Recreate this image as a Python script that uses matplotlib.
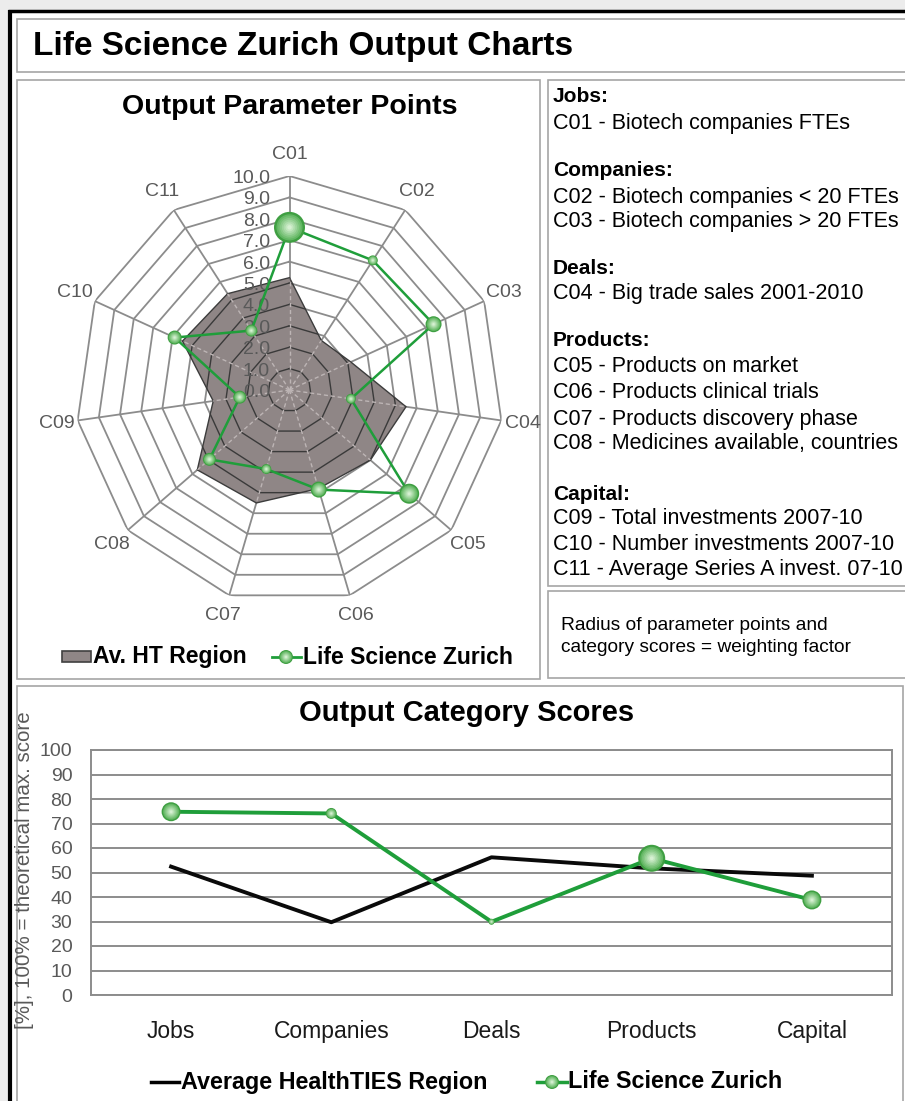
import numpy as np
import matplotlib
matplotlib.use('Agg')
import matplotlib.pyplot as plt
from matplotlib.patches import Rectangle
import matplotlib.transforms as mtransforms
from matplotlib.colors import to_rgb

plt.rcParams['font.family'] = ['Liberation Sans', 'DejaVu Sans']

# ---------------- data ----------------
param_codes = ['C01', 'C02', 'C03', 'C04', 'C05', 'C06', 'C07', 'C08', 'C09', 'C10', 'C11']
avg_region = [5.25, 2.75, 3.15, 5.5, 5.0, 4.8, 5.5, 5.7, 3.6, 5.5, 5.35]
lsz_params = [7.6, 7.2, 7.4, 2.9, 7.4, 4.85, 3.85, 4.95, 2.35, 5.9, 3.3]
param_weights = [31, 10, 16, 10, 20, 16, 10, 13, 13, 14, 12]
radar_ticks = [0, 1, 2, 3, 4, 5, 6, 7, 8, 9, 10]

categories = ['Jobs', 'Companies', 'Deals', 'Products', 'Capital']
avg_scores = [52.4, 29.7, 56.2, 51.7, 48.7]
lsz_scores = [74.8, 74.1, 29.9, 55.8, 38.8]
category_weights = [19, 11, 6, 27, 19]
score_ticks = [0, 10, 20, 30, 40, 50, 60, 70, 80, 90, 100]

main_title = 'Life Science Zurich Output Charts'
radar_title = 'Output Parameter Points'
line_title = 'Output Category Scores'
ylabel_text = '[%], 100% = theoretical max. score'
radar_legend = ['Av. HT Region', 'Life Science Zurich']
line_legend = ['Average HealthTIES Region', 'Life Science Zurich']
panel_lines = [
    ('Jobs:', True), ('C01 - Biotech companies FTEs', False),
    ('Companies:', True), ('C02 - Biotech companies < 20 FTEs', False),
    ('C03 - Biotech companies > 20 FTEs', False),
    ('Deals:', True), ('C04 - Big trade sales 2001-2010', False),
    ('Products:', True), ('C05 - Products on market', False),
    ('C06 - Products clinical trials', False), ('C07 - Products discovery phase', False),
    ('C08 - Medicines available, countries', False),
    ('Capital:', True), ('C09 - Total investments 2007-10', False),
    ('C10 - Number investments 2007-10', False),
    ('C11 - Average Series A invest. 07-10', False),
]
panel_y = [97, 123, 171, 197, 221, 268, 294, 341, 367, 393, 419, 444, 494, 519, 545, 570]
note_lines = ['Radius of parameter points and', 'category scores = weighting factor']

# ---------------- figure ----------------
W, H = 905, 1101
fig = plt.figure(figsize=(W / 100, H / 100), dpi=100)
fig.patch.set_facecolor('white')

GREEN = '#1f9e3a'
FILL = '#8f8686'
GRID = '#8c8c8c'
LABEL = '#595959'
BORDER = '#a6a6a6'

bg = fig.add_axes([0, 0, 1, 1], zorder=-10)
bg.set_xlim(0, W)
bg.set_ylim(H, 0)
bg.axis('off')

bg.add_patch(Rectangle((0, 0), W, 10, facecolor='#ececec', edgecolor='none'))
bg.add_patch(Rectangle((0, 0), 8, H, facecolor='#ececec', edgecolor='none'))
bg.plot([8, W], [11, 11], color='black', lw=2.5, solid_capstyle='butt')
bg.plot([10, 10], [10, H], color='black', lw=3, solid_capstyle='butt')


def box(x0, y0, x1, y1):
    bg.add_patch(Rectangle((x0, y0), x1 - x0, y1 - y0, facecolor='white',
                           edgecolor=BORDER, lw=1.2))


box(17, 19, 910, 72)
box(17, 80, 540, 679)
box(548, 80, 910, 586)
box(548, 591, 910, 678)
box(17, 686, 903, 1110)

bg.text(33, 46, main_title, fontsize=24, fontweight='bold', ha='left', va='center', color='black')
bg.text(290, 107, radar_title, fontsize=20.5, fontweight='bold', ha='center', va='center')
bg.text(467, 713, line_title, fontsize=21, fontweight='bold', ha='center', va='center')

for (txt, bold), yy in zip(panel_lines, panel_y):
    bg.text(553, yy, txt, fontsize=15 if bold else 15.5, fontweight='bold' if bold else 'normal',
            ha='left', va='center', color='black')
for txt, yy in zip(note_lines, [625, 647]):
    bg.text(561, yy, txt, fontsize=13.8, ha='left', va='center', color='black')

bg.text(25, 870, ylabel_text, fontsize=14.8, rotation=90, ha='center', va='center', color=LABEL)


def sphere(ax, x, y, d_px, zorder=6, **kw):
    s = (np.asarray(d_px, dtype=float) * 0.72) ** 2
    ax.scatter(x, y, s=s, color='#3f9f42', edgecolors='none', zorder=zorder, **kw)
    c0 = np.array(to_rgb('#4fae50'))
    c1 = np.array(to_rgb('#d6f0d2'))
    steps = 7
    for k in range(1, steps + 1):
        f = k / steps
        col = c0 * (1 - f) + c1 * f
        ax.scatter(x, y, s=s * (1 - 0.85 * f) ** 2 * 0.92, color=col, edgecolors='none',
                   zorder=zorder + 0.01 * k, **kw)


# legends (radar)
bg.add_patch(Rectangle((62, 651), 29, 11, facecolor=FILL, edgecolor='#404040', lw=1.2))
bg.text(93, 657, radar_legend[0], fontsize=16.5, fontweight='bold', ha='left', va='center')
bg.plot([272, 301], [657, 657], color=GREEN, lw=2)
sphere(bg, [286], [657], [14])
bg.text(303, 657, radar_legend[1], fontsize=16.5, fontweight='bold', ha='left', va='center')

# legends (line chart)
bg.plot([151, 179], [1082, 1082], color='black', lw=2.5)
bg.text(181, 1082, line_legend[0], fontsize=16.8, fontweight='bold', ha='left', va='center')
bg.plot([537, 567], [1082, 1082], color=GREEN, lw=2.5)
sphere(bg, [552], [1082], [14])
bg.text(568, 1082, line_legend[1], fontsize=16.8, fontweight='bold', ha='left', va='center')

# ---------------- radar ----------------
cx, cy, R = 289.5, 390.0, 214.0
ax = fig.add_axes([(cx - R) / W, (H - cy - R) / H, 2 * R / W, 2 * R / H], projection='polar')
ax.set_facecolor('none')
ax.set_theta_offset(np.pi / 2)
ax.set_theta_direction(-1)
ax.set_ylim(0, 10)
ax.grid(False)
ax.set_xticks([])
ax.set_yticks([])
ax.spines['polar'].set_visible(False)

n = len(param_codes)
theta = np.arange(n) * 2 * np.pi / n
theta_c = np.append(theta, theta[0])

for r in radar_ticks[1:]:
    ax.plot(theta_c, [r] * (n + 1), color=GRID, lw=1.3, zorder=1)
for t in theta:
    ax.plot([t, t], [0, 10], color=GRID, lw=1.3, zorder=1)

avg_c = np.append(avg_region, avg_region[0])
fill_patch = ax.fill(theta_c, avg_c, facecolor=FILL, edgecolor='#3c3c3c', lw=1.0, zorder=2)[0]
for r in radar_ticks[1:]:
    ln, = ax.plot(theta_c, [r] * (n + 1), color='#3a3a3a', lw=1.0, zorder=3)
    ln.set_clip_path(fill_patch)
for t in theta:
    ln, = ax.plot([t, t], [0, 10], color='#bdb5b5', lw=1.0, ls=(0, (3, 2)), zorder=3)
    ln.set_clip_path(fill_patch)

off = mtransforms.offset_copy(ax.transData, fig=fig, x=-19.5, y=-2.5, units='dots')
for r in radar_ticks:
    ax.text(0, r, f'{r:.1f}', transform=off, ha='right', va='center', fontsize=14,
            color=LABEL, zorder=4)

for t, code in zip(theta, param_codes):
    ax.text(t, 11.0, code, ha='center', va='center', fontsize=14, color=LABEL)

lsz_c = np.append(lsz_params, lsz_params[0])
ax.plot(theta_c, lsz_c, color=GREEN, lw=1.8, zorder=5)
sphere(ax, theta, lsz_params, param_weights)

# ---------------- line chart ----------------
L, Rr, T, B = 91, 892, 750, 995
ax2 = fig.add_axes([L / W, (H - B) / H, (Rr - L) / W, (B - T) / H])
ax2.set_xlim(-0.5, len(categories) - 0.5)
ax2.set_ylim(0, 100)
ax2.set_yticks(score_ticks)
ax2.set_yticklabels([str(v) for v in score_ticks])
ax2.set_xticks(range(len(categories)))
ax2.set_xticklabels(categories)
ax2.tick_params(axis='y', length=0, pad=13.5, labelsize=14, labelcolor=LABEL)
ax2.tick_params(axis='x', length=0, pad=18, labelsize=16.5, labelcolor='#1a1a1a')
ax2.yaxis.grid(True, color=GRID, lw=1.4)
ax2.set_axisbelow(True)
for sp in ax2.spines.values():
    sp.set_color(GRID)
    sp.set_linewidth(1.4)

x = np.arange(len(categories))
ax2.plot(x, avg_scores, color='#0a0a0a', lw=2.8, zorder=4)
ax2.plot(x, lsz_scores, color=GREEN, lw=2.8, zorder=5)
sphere(ax2, x, lsz_scores, category_weights, clip_on=False)

fig.savefig('out.png', dpi=100, facecolor='white')
